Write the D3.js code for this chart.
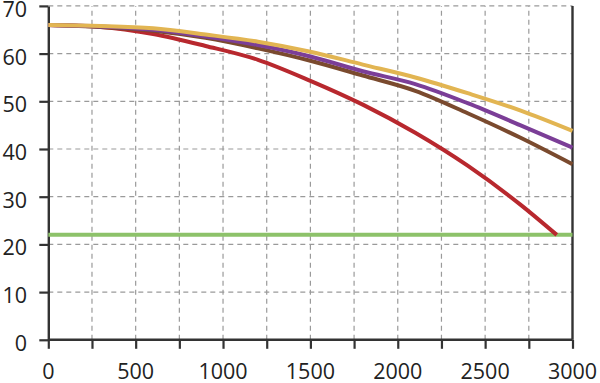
<!DOCTYPE html>
<html><head><meta charset="utf-8">
<script src="https://cdn.jsdelivr.net/npm/d3@7"></script>
<style>body{margin:0;background:#fff}svg{display:block}</style>
</head><body><svg id="c" width="600" height="383"></svg>
<script>
const xs = [0, 300, 600, 900, 1200, 1500, 1800, 2100, 2400, 2700, 3000];
const goldVals   = [66, 65.8, 65.3, 64.0, 62.5, 60.4, 57.7, 55.0, 51.7, 48.1, 43.8];
const purpleVals = [66, 65.7, 65.0, 63.6, 61.8, 59.4, 56.3, 53.6, 49.6, 45.0, 40.3];
const brownVals  = [66, 65.6, 64.8, 63.3, 61.1, 58.5, 55.4, 52.2, 47.5, 42.4, 36.8];
const redXs   = [0, 300, 600, 900, 1200, 1500, 1800, 2100, 2400, 2700, 2910];
const redVals = [66, 65.6, 64.1, 61.6, 58.7, 54.3, 49.3, 43.4, 36.5, 28.4, 22];
const greenXs = [0, 3000];
const greenVals = [22, 22];
const xTicks = [0, 500, 1000, 1500, 2000, 2500, 3000];
const yTicks = [0, 10, 20, 30, 40, 50, 60, 70];

const svg = d3.select("#c");
const x = d3.scaleLinear().domain([0, 3000]).range([48.3, 572.5]);
const y = d3.scaleLinear().domain([0, 70]).range([339.8, 5.9]);
const font = "'Open Sans', 'Noto Sans', sans-serif";

// grid
const grid = svg.append("g").attr("stroke", "#9a9a9a").attr("stroke-width", 1.2).attr("stroke-dasharray", "5,4");
d3.range(250, 3000, 250).forEach(v => {
  grid.append("line").attr("x1", x(v)).attr("x2", x(v)).attr("y1", y(0)).attr("y2", y(70));
});
d3.range(10, 71, 10).forEach(v => {
  grid.append("line").attr("x1", x(0)).attr("x2", x(3000)).attr("y1", y(v)).attr("y2", y(v));
});

// axes
const axisColor = "#333";
const xAxis = svg.append("g").attr("transform", `translate(0,${y(0)})`)
  .call(d3.axisBottom(x).tickValues(d3.range(0, 3001, 250)).tickSize(9).tickSizeOuter(0).tickFormat(""));
const yAxis = svg.append("g").attr("transform", `translate(${x(0)},0)`)
  .call(d3.axisLeft(y).tickValues(yTicks).tickSize(9).tickSizeOuter(0).tickFormat(""));
[xAxis, yAxis].forEach(a => {
  a.selectAll("path").attr("stroke", axisColor).attr("stroke-width", 2.4);
  a.selectAll("line").attr("stroke", axisColor).attr("stroke-width", 2.2);
});
xAxis.select(".domain").attr("d", `M${x(0)},0H${x(3000)}`);
svg.append("line").attr("x1", x(3000)).attr("x2", x(3000)).attr("y1", y(70)).attr("y2", y(0))
  .attr("stroke", axisColor).attr("stroke-width", 2.4);

// labels
svg.append("g").selectAll("text").data(xTicks).join("text")
  .attr("x", d => x(d)).attr("y", 379).attr("text-anchor", "middle")
  .attr("font-family", font).attr("font-size", 21.5).attr("fill", "#222").text(d => d);
svg.append("g").selectAll("text").data(yTicks).join("text")
  .attr("x", 27).attr("y", d => y(d) + 11).attr("text-anchor", "end")
  .attr("font-family", font).attr("font-size", 21.5).attr("fill", "#222").text(d => d);

// lines
const line = d3.line().x(d => x(d[0])).y(d => y(d[1])).curve(d3.curveMonotoneX);
const series = [
  {xs: greenXs, v: greenVals, c: "#8dc26a"},
  {xs: redXs, v: redVals, c: "#b8282e"},
  {xs: xs, v: brownVals, c: "#7a4a2e"},
  {xs: xs, v: purpleVals, c: "#7b3e97"},
  {xs: xs, v: goldVals, c: "#e2b552"}
];
series.forEach(s => {
  svg.append("path").datum(s.xs.map((d, i) => [d, s.v[i]]))
    .attr("d", line).attr("fill", "none").attr("stroke", s.c)
    .attr("stroke-width", 4).attr("stroke-linejoin", "round");
});
</script></body></html>
